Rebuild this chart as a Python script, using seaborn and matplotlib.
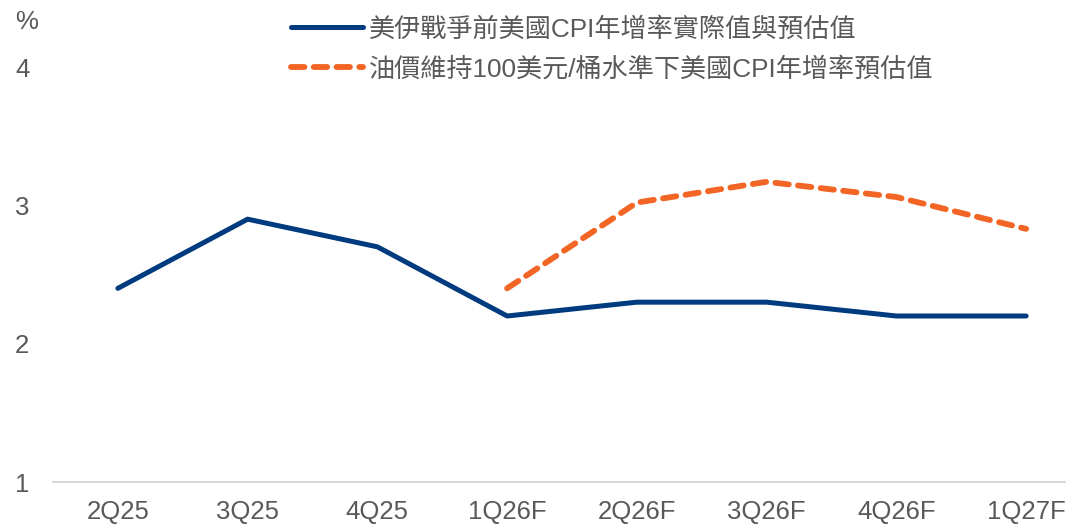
import matplotlib
matplotlib.use("Agg")
import matplotlib.pyplot as plt
import seaborn as sns
import pandas as pd
import numpy as np

quarters = ["2Q25", "3Q25", "4Q25", "1Q26F", "2Q26F", "3Q26F", "4Q26F", "1Q27F"]
cpi_base = [2.4, 2.9, 2.7, 2.2, 2.3, 2.3, 2.2, 2.2]
oil_quarters = ["1Q26F", "2Q26F", "3Q26F", "4Q26F", "1Q27F"]
cpi_oil = [2.4, 3.02, 3.17, 3.06, 2.83]
label_base = "美伊戰爭前美國CPI年增率實際值與預估值"
label_oil = "油價維持100美元/桶水準下美國CPI年增率預估值"
yticks = [1, 2, 3, 4]

sns.set_theme(style="white")
plt.rcParams["font.family"] = ["Liberation Sans", "Noto Sans CJK TC", "DejaVu Sans"]

BLUE = "#003A7F"
ORANGE = "#F26525"
GRAY = "#595959"

fig = plt.figure(figsize=(10.66, 5.24), dpi=100)
ax = fig.add_axes([53/1066, 42/524, 1038/1066, 415/524])

df_base = pd.DataFrame({"q": quarters, "v": cpi_base})
df_oil = pd.DataFrame({"q": oil_quarters, "v": cpi_oil})

sns.lineplot(data=df_base, x="q", y="v", sort=False, ax=ax, color=BLUE,
             linewidth=3.6, label=label_base, solid_capstyle="round")
sns.lineplot(data=df_oil, x="q", y="v", sort=False, ax=ax, color=ORANGE,
             linewidth=4.2, label=label_oil, dashes=False)
ax.lines[1].set_linestyle((0, (2.3, 1.6)))
ax.lines[1].set_dash_capstyle("round")

ax.set_xlim(-0.5, len(quarters) - 0.5)
ax.set_ylim(1, 4)
ax.set_yticks(yticks)
ax.set_yticklabels([str(t) for t in yticks])
ax.set_xlabel("")
ax.set_ylabel("")

for s in ["top", "right", "left"]:
    ax.spines[s].set_visible(False)
ax.spines["bottom"].set_color("#D9D9D9")
ax.spines["bottom"].set_linewidth(1.5)

ax.tick_params(axis="x", length=0, pad=13, labelsize=18.5, labelcolor=GRAY)
ax.tick_params(axis="y", length=0, pad=17, labelsize=18.5, labelcolor=GRAY)
for lab in ax.get_yticklabels():
    lab.set_horizontalalignment("right")

fig.text(15/1066, 1 - 22/524, "%", fontsize=18.5, color=GRAY, va="center", ha="left")

handles, labels = ax.get_legend_handles_labels()
leg = ax.legend(handles, labels, loc="upper left",
                bbox_to_anchor=(291/1066, 1 - 17/524), bbox_transform=fig.transFigure,
                frameon=False, fontsize=18.8, handlelength=2.75, handletextpad=0.25,
                labelspacing=0.58, borderaxespad=0, borderpad=0)
for t in leg.get_texts():
    t.set_color(GRAY)

fig.savefig("out.png", dpi=100)
